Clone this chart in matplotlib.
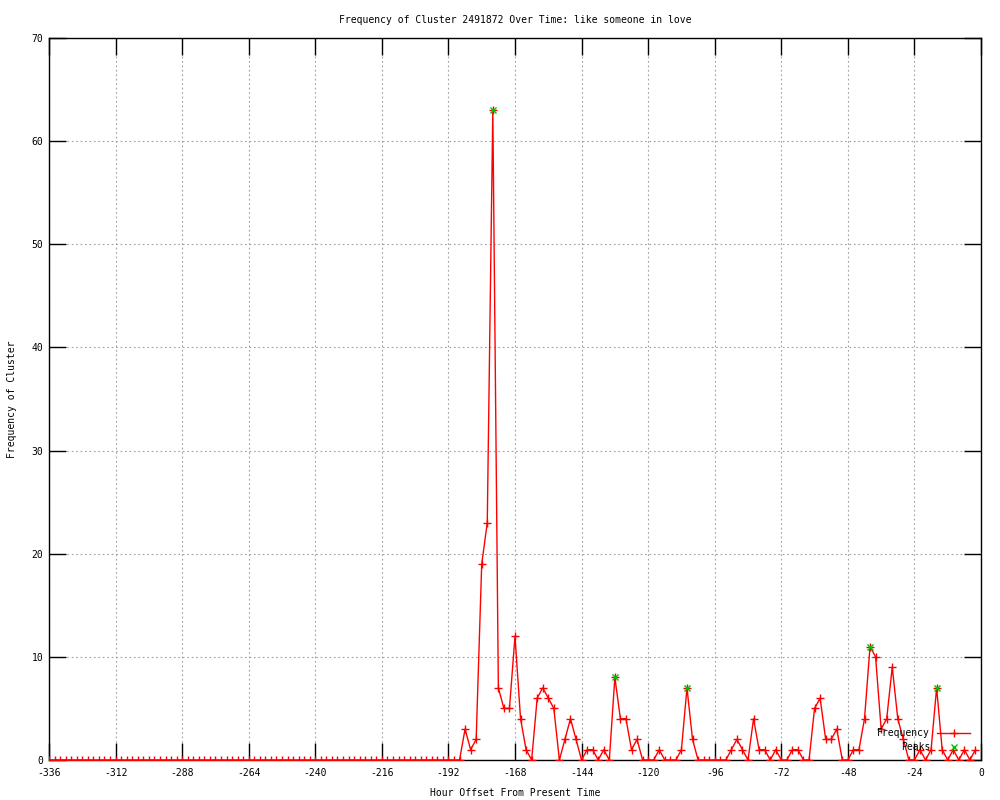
import matplotlib
matplotlib.use("Agg")
import matplotlib.pyplot as plt
import numpy as np

plt.rcParams['axes.unicode_minus'] = False
plt.rcParams['font.family'] = ['DejaVu Sans Mono']

title = "Frequency of Cluster 2491872 Over Time: like someone in love"
xlabel = "Hour Offset From Present Time"
ylabel = "Frequency of Cluster"

# hour offsets, every 2 hours from -336 to -2
hours = list(range(-336, 0, 2))

# frequency values (-336 .. -188 are all zero)
freq = [0] * 75 + [
    3, 1, 2, 19, 23, 63, 7, 5, 5, 12,      # -186 .. -168
    4, 1, 0, 6, 7, 6, 5, 0, 2, 4,          # -166 .. -148
    2, 0, 1, 1, 0, 1, 0, 8, 4, 4,          # -146 .. -128
    1, 2, 0, 0, 0, 1, 0, 0, 0, 1,          # -126 .. -108
    7, 2, 0, 0, 0, 0, 0, 0, 1, 2,          # -106 .. -88
    1, 0, 4, 1, 1, 0, 1, 0, 0, 1,          # -86 .. -68
    1, 0, 0, 5, 6, 2, 2, 3, 0, 0,          # -66 .. -48
    1, 1, 4, 11, 10, 3, 4, 9, 4, 2,        # -46 .. -28
    0, 0, 1, 0, 1, 7, 1, 0, 1, 0,          # -26 .. -8
    1, 0, 1,                               # -6 .. -2
]

peak_hours = [-176, -132, -106, -40, -16]
peak_vals = [63, 8, 7, 11, 7]

xticks = list(range(-336, 1, 24))
yticks = list(range(0, 71, 10))

fig = plt.figure(figsize=(10, 8), dpi=100)
ax = fig.add_axes([0.049, 0.05, 0.932, 0.9025])

ax.plot(hours, freq, color='red', lw=1.0, marker='+', ms=6, mew=1.0, zorder=3)
ax.plot(peak_hours, peak_vals, ls='none', marker='x', color='#00c000', ms=5, mew=1.0, zorder=4)

ax.set_xlim(-336, 0)
ax.set_ylim(0, 70)
ax.set_xticks(xticks)
ax.set_yticks(yticks)
ax.grid(True, color='#a0a0a0', ls=(0, (1.5, 2.5)), lw=0.8)
ax.tick_params(direction='in', length=12, width=1, top=True, right=True,
               labelsize=7, colors='black')
ax.tick_params(axis='x', pad=6)
ax.tick_params(axis='y', pad=4)
for s in ax.spines.values():
    s.set_linewidth(1.0)

ax.set_title(title, fontsize=7, pad=11)
ax.set_xlabel(xlabel, fontsize=7)
ax.set_ylabel(ylabel, fontsize=7)
ax.xaxis.set_label_coords(0.5, -0.0457)
ax.xaxis.label.set_va('center')
ax.yaxis.set_label_coords(-0.0397, 0.5)
ax.yaxis.label.set_va('center')

# key (gnuplot-style, right-aligned text)
def fx(px):
    return (px - 49) / 932.0

def fy(py):
    return (760 - py) / 722.0

ax.text(fx(930), fy(732.5), "Frequency", transform=ax.transAxes, ha='right', va='center', fontsize=7, zorder=5)
ax.plot([fx(937), fx(970)], [fy(732.5), fy(732.5)], transform=ax.transAxes, color='red', lw=1.0, clip_on=False, zorder=5)
ax.plot([fx(953.5)], [fy(732.5)], transform=ax.transAxes, color='red', marker='+', ms=6, mew=1.0, clip_on=False, zorder=5)
ax.text(fx(930), fy(746.5), "Peaks", transform=ax.transAxes, ha='right', va='center', fontsize=7, zorder=5)
ax.plot([fx(953.5)], [fy(746.5)], transform=ax.transAxes, color='#00c000', marker='x', ms=5, mew=1.0, clip_on=False, zorder=5)

fig.savefig("out.png", dpi=100)
